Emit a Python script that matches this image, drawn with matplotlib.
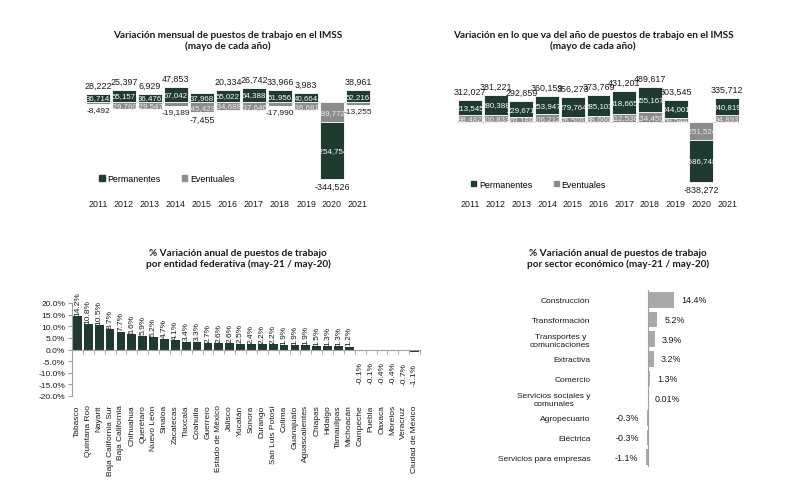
import numpy as np
import matplotlib
matplotlib.use('Agg')
import matplotlib.pyplot as plt
from matplotlib.patches import Patch

# ---- data ----
years = ['2011', '2012', '2013', '2014', '2015', '2016', '2017', '2018', '2019', '2020', '2021']

mens_perm = [36714, 55157, 36476, 67042, 37968, 55022, 64388, 51956, 40664, -254754, 52216]
mens_event = [-8492, -29760, -29547, -19189, -45423, -34688, -37646, -17990, -36681, -89772, -13255]
mens_total = [28222, 25397, 6929, 47853, -7455, 20334, 26742, 33966, 3983, -344526, 38961]

acum_perm = [213545, 280388, 229671, 253947, 279764, 285103, 318665, 355167, 244001, -586748, 240819]
acum_event = [98482, 100833, 63188, 106212, 76509, 88666, 112536, 134450, 59544, -251524, 94893]
acum_total = [312027, 381221, 292859, 360159, 356273, 373769, 431201, 489617, 303545, -838272, 335712]

estados = ['Tabasco', 'Quintana Roo', 'Nayarit', 'Baja California Sur', 'Baja California',
           'Chihuahua', 'Querétaro', 'Nuevo León', 'Sinaloa', 'Zacatecas', 'Tlaxcala',
           'Coahuila', 'Guerrero', 'Estado de México', 'Jalisco', 'Yucatán', 'Sonora',
           'Durango', 'San Luis Potosí', 'Colima', 'Guanajuato', 'Aguascalientes', 'Chiapas',
           'Hidalgo', 'Tamaulipas', 'Michoacán', 'Campeche', 'Puebla', 'Oaxaca', 'Morelos',
           'Veracruz', 'Ciudad de México']
estados_var = [14.2, 10.8, 10.5, 8.7, 7.7, 6.6, 5.9, 5.2, 4.7, 4.1, 3.4, 3.3, 2.7, 2.6, 2.6,
               2.5, 2.4, 2.2, 2.2, 1.9, 1.9, 1.9, 1.5, 1.3, 1.3, 1.2, -0.1, -0.1, -0.4, -0.4,
               -0.7, -1.1]

sectores = ['Construcción', 'Transformación', 'Transportes y\ncomunicaciones', 'Extractiva',
            'Comercio', 'Servicios sociales y\ncomunales', 'Agropecuario', 'Eléctrica',
            'Servicios para empresas']
sectores_var = [14.4, 5.2, 3.9, 3.2, 1.3, 0.01, -0.3, -0.3, -1.1]
sectores_lbl = ['14.4%', '5.2%', '3.9%', '3.2%', '1.3%', '0.01%', '-0.3%', '-0.3%', '-1.1%']

# ---- style ----
GREEN = '#1f3b2f'
GRAY = '#8c8c8c'
LGRAY = '#a9a9a9'
TXT = '#1a1a1a'
NARROW = ['Liberation Sans', 'DejaVu Sans']
BOLD = ['Lato', 'DejaVu Sans']
FS = 6

W, H = 785, 485
fig = plt.figure(figsize=(W / 100, H / 100), dpi=100)


def axes_px(left, top, right, bottom):
    return fig.add_axes([left / W, 1 - bottom / H, (right - left) / W, (bottom - top) / H])


def title_px(x, y, s):
    fig.text(x / W, 1 - y / H, s, ha='center', va='center', fontsize=7.2, fontweight='bold',
             family=BOLD, color=TXT, linespacing=1.3)


def fmt(v):
    return f'{v:,}'


def stacked(ax, perm, event, total, thresh):
    x = np.arange(len(years))
    perm = np.array(perm)
    event = np.array(event)
    perm_bottom = np.where(np.sign(perm) == np.sign(event), event, 0)
    ax.bar(x, event, width=0.93, color=GRAY, edgecolor='white', linewidth=0.6)
    ax.bar(x, perm, bottom=perm_bottom, width=0.93, color=GREEN, edgecolor='white', linewidth=0.6)
    ax.axhline(0, color='#bfbfbf', linewidth=0.8, zorder=0)
    for i in x:
        ax.text(i, perm_bottom[i] + perm[i] / 2, fmt(perm[i]), ha='center', va='center',
                fontsize=FS - 0.3, family=NARROW, color='white')
        if abs(event[i]) >= thresh:
            ax.text(i, event[i] / 2, fmt(event[i]), ha='center', va='center',
                    fontsize=FS - 0.3, family=NARROW, color='#ececec')
        else:
            ax.annotate(fmt(event[i]), (i, event[i]), xytext=(0, -1.5), textcoords='offset points',
                        ha='center', va='top', fontsize=FS, family=NARROW, color=TXT)
        tops = [0, perm_bottom[i] + perm[i], event[i]]
        if total[i] >= 0:
            ax.annotate(fmt(total[i]), (i, max(tops)), xytext=(0, 3), textcoords='offset points',
                        ha='center', va='bottom', fontsize=FS + 0.4, family=NARROW, color=TXT)
        else:
            ax.annotate(fmt(total[i]), (i, min(tops)), xytext=(0, -2), textcoords='offset points',
                        ha='center', va='top', fontsize=FS + 0.4, family=NARROW, color=TXT)
    ax.set_xlim(-0.5, len(years) - 0.5)
    ax.set_xticks(x)
    ax.set_xticklabels(years, fontsize=FS + 0.4, family=NARROW, color=TXT)
    ax.tick_params(axis='x', length=0, pad=3)
    ax.set_yticks([])
    for s in ax.spines.values():
        s.set_visible(False)


def legend(ax, x, y):
    handles = [Patch(color=GREEN, label='Permanentes'), Patch(color=GRAY, label='Eventuales')]
    ax.legend(handles=handles, loc='center left', bbox_to_anchor=(x, y), ncol=2, frameon=False,
              handlelength=0.6, handleheight=0.6, handletextpad=0.3, columnspacing=2.4,
              prop={'family': NARROW, 'size': FS + 0.4}, borderaxespad=0, borderpad=0)


# ---- panel 1: variación mensual ----
ax1 = axes_px(85, 60, 371, 196)
stacked(ax1, mens_perm, mens_event, mens_total, 25000)
ax1.set_ylim(-(196 - 103) * 4450, (103 - 60) * 4450)
legend(ax1, 0.05, 0.12)
title_px(228, 41, 'Variación mensual de puestos de trabajo en el IMSS\n(mayo de cada año)')

# ---- panel 2: variación en lo que va del año ----
ax2 = axes_px(457, 60, 740, 196)
stacked(ax2, acum_perm, acum_event, acum_total, 0)
ax2.set_ylim(-(196 - 123) * 14000, (123 - 60) * 14000)
legend(ax2, 0.05, 0.08)
title_px(593, 41, 'Variación en lo que va del año de puestos de trabajo en el IMSS\n(mayo de cada año)')

# ---- panel 3: por entidad federativa ----
ax3 = axes_px(72, 304, 420, 397)
xe = np.arange(len(estados))
ax3.bar(xe, estados_var, width=0.8, color=GREEN)
ax3.set_xlim(-0.5, len(estados) - 0.5)
ax3.set_ylim(-20, 20)
ax3.set_yticks(np.arange(-20, 21, 5))
ax3.set_yticklabels([f'{v:.1f}%' for v in np.arange(-20, 21, 5)], fontsize=FS, family=NARROW,
                    color=TXT)
ax3.tick_params(axis='y', length=3, color='#a0a0a0', pad=2)
for side in ['top', 'right']:
    ax3.spines[side].set_visible(False)
ax3.spines['left'].set_color('#a0a0a0')
ax3.spines['bottom'].set_position(('data', 0))
ax3.spines['bottom'].set_color('#a0a0a0')
ax3.set_xticks(np.arange(-0.5, len(estados)), minor=True)
ax3.set_xticks([])
ax3.tick_params(axis='x', which='minor', length=3, color='#a0a0a0')
sec = ax3.secondary_xaxis(0.0)
sec.set_xticks(xe)
sec.set_xticklabels(estados, rotation=90, fontsize=FS, family=NARROW, color=TXT)
sec.tick_params(length=0, pad=6)
sec.spines['bottom'].set_visible(False)
for i, v in enumerate(estados_var):
    if v >= 0:
        ax3.text(i, v + 0.6, f'{v:.1f}%', rotation=90, ha='center', va='bottom', fontsize=FS,
                 family=NARROW, color=TXT, clip_on=False)
    else:
        ax3.text(i, v - 4.8, f'{v:.1f}%', rotation=90, ha='center', va='top', fontsize=FS,
                 family=NARROW, color=TXT, clip_on=False)
title_px(238, 259, '% Variación anual de puestos de trabajo\npor entidad federativa (may-21 / may-20)')

# ---- panel 4: por sector económico ----
ax4 = axes_px(596, 291, 740, 468)
ys = np.arange(len(sectores))
ax4.barh(ys, sectores_var, height=0.8, color=LGRAY)
ax4.axvline(0, color='#a0a0a0', linewidth=0.8)
ax4.set_xlim(-(648 - 596) / 1.8, (740 - 648) / 1.8)
ax4.set_ylim(len(sectores) - 0.5, -0.5)
ax4.set_yticks(ys)
ax4.set_yticklabels(sectores, fontsize=FS, family=NARROW, color=TXT)
for lbl in ax4.get_yticklabels():
    lbl.set_multialignment('center')
ax4.tick_params(axis='y', length=0, pad=4)
ax4.set_xticks([])
for s in ax4.spines.values():
    s.set_visible(False)
for i, v in enumerate(sectores_var):
    if v >= 0:
        ax4.annotate(sectores_lbl[i], (v, i), xytext=(5, 0), textcoords='offset points',
                     ha='left', va='center', fontsize=FS + 0.4, family=NARROW, color=TXT)
    else:
        ax4.annotate(sectores_lbl[i], (v, i), xytext=(-6, 0), textcoords='offset points',
                     ha='right', va='center', fontsize=FS + 0.4, family=NARROW, color=TXT)
title_px(618, 259, '% Variación anual de puestos de trabajo\npor sector económico (may-21 / may-20)')

fig.savefig('out.png', dpi=100)
